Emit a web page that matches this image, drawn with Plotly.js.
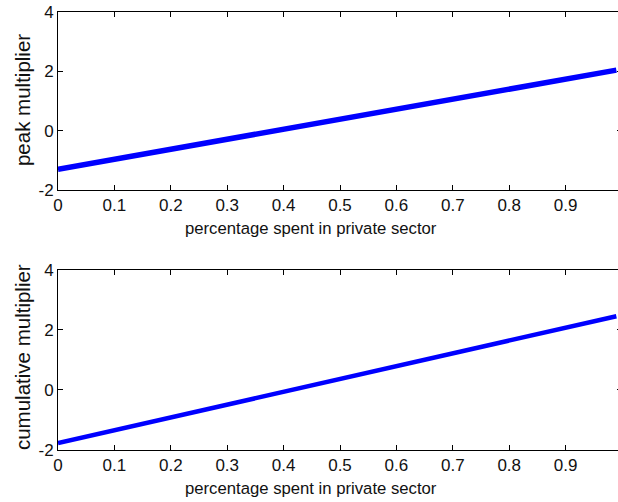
<!DOCTYPE html>
<html>
<head>
<meta charset="utf-8">
<script src="https://cdn.plot.ly/plotly-3.0.1.min.js"></script>
<style>
html,body{margin:0;padding:0;overflow:hidden;background:#fff;}
#chart{width:626px;height:502px;}
</style>
</head>
<body>
<div id="chart"></div>
<script>
// shares spent in private sector (x)
const share = [0, 0.1, 0.2, 0.3, 0.4, 0.5, 0.6, 0.7, 0.8, 0.9, 0.99];
// peak multiplier
const peakMultiplier = [-1.30, -0.96, -0.63, -0.29, 0.05, 0.39, 0.72, 1.06, 1.40, 1.73, 2.04];
// cumulative multiplier
const cumulativeMultiplier = [-1.77, -1.34, -0.91, -0.49, -0.06, 0.37, 0.79, 1.22, 1.64, 2.07, 2.46];

const xTicks = [0, 0.1, 0.2, 0.3, 0.4, 0.5, 0.6, 0.7, 0.8, 0.9];
const xTickText = ['0', '0.1', '0.2', '0.3', '0.4', '0.5', '0.6', '0.7', '0.8', '0.9'];
const yTicks = [-2, 0, 2, 4];
const yTickText = ['-2', '0', '2', '4'];
const xTitle = 'percentage spent in private sector';
const yTitleTop = 'peak multiplier';
const yTitleBottom = 'cumulative multiplier';

const fam = 'Liberation Sans, Arial, Helvetica, sans-serif';
const tickFont = {family: fam, size: 17, color: '#111'};
const xTitleFont = {family: fam, size: 16.7, color: '#111'};
const yTitleFont = {family: fam, size: 20.5, color: '#111'};

const traces = [
  {x: share, y: peakMultiplier, type: 'scatter', mode: 'lines',
   line: {color: '#0000ff', width: 5.5}, xaxis: 'x', yaxis: 'y', hoverinfo: 'skip'},
  {x: share, y: cumulativeMultiplier, type: 'scatter', mode: 'lines',
   line: {color: '#0000ff', width: 4.5}, xaxis: 'x2', yaxis: 'y2', hoverinfo: 'skip'}
];

function xa(anchor) {
  return {anchor: anchor, range: [0, 1], tickvals: xTicks, ticktext: xTickText,
    ticks: 'inside', ticklen: 5, tickwidth: 1, tickcolor: '#000',
    showline: true, linecolor: '#000', linewidth: 1, mirror: 'ticks',
    showgrid: false, zeroline: false, tickfont: tickFont, fixedrange: true};
}
function ya(anchor, dom) {
  return {anchor: anchor, domain: dom, range: [-2, 4], tickvals: yTicks, ticktext: yTickText,
    ticks: 'inside', ticklen: 5, tickwidth: 1, tickcolor: '#000',
    showline: true, linecolor: '#000', linewidth: 1, mirror: 'ticks',
    showgrid: false, zeroline: false, tickfont: tickFont, fixedrange: true};
}

const layout = {
  width: 626, height: 502,
  margin: {l: 58, r: 4, t: 12, b: 52},
  paper_bgcolor: '#fff', plot_bgcolor: '#fff',
  showlegend: false,
  font: tickFont,
  xaxis: xa('y'),
  yaxis: ya('x', [0.5936, 1]),
  xaxis2: xa('y2'),
  yaxis2: ya('x2', [0, 0.411]),
  annotations: [
    {text: xTitle, xref: 'paper', yref: 'paper', x: 0.4486, y: 0.5068, showarrow: false, font: xTitleFont, xanchor: 'center', yanchor: 'middle'},
    {text: xTitle, xref: 'paper', yref: 'paper', x: 0.4486, y: -0.0868, showarrow: false, font: xTitleFont, xanchor: 'center', yanchor: 'middle'},
    {text: yTitleTop, xref: 'paper', yref: 'paper', x: -0.0638, y: 0.799, textangle: -90, showarrow: false, font: yTitleFont, xanchor: 'center', yanchor: 'middle'},
    {text: yTitleBottom, xref: 'paper', yref: 'paper', x: -0.0638, y: 0.2123, textangle: -90, showarrow: false, font: yTitleFont, xanchor: 'center', yanchor: 'middle'}
  ]
};

Plotly.newPlot('chart', traces, layout, {staticPlot: true, displayModeBar: false});
</script>
</body>
</html>
